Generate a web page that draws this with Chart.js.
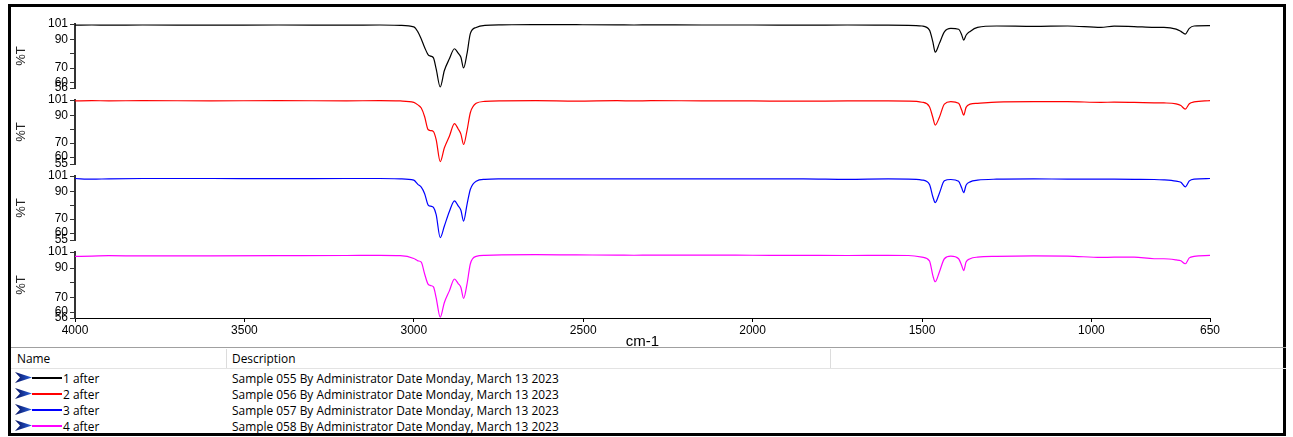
<!DOCTYPE html>
<html>
<head>
<meta charset="utf-8">
<script src="https://cdn.jsdelivr.net/npm/chart.js@4.4.1/dist/chart.umd.min.js"></script>
<style>
  html, body { margin: 0; padding: 0; background: #fff; }
  body { width: 1293px; height: 437px; position: relative; overflow: hidden; font-family: "Open Sans", sans-serif; }
  #frame { position: absolute; left: 8px; top: 4px; width: 1272px; height: 426px; border: 3px solid #000; }
  canvas { position: absolute; left: 0; }
  .hline { position: absolute; left: 11px; width: 1275px; height: 1px; background: #a0a0a0; }
  .hline2 { position: absolute; left: 11px; width: 1275px; height: 1px; background: #e3e3e3; }
  .vsep { position: absolute; top: 349px; width: 1px; height: 19px; background: #dcdcdc; }
  .txt { position: absolute; font-size: 11.9px; line-height: 16px; color: #000; white-space: nowrap; }
  .swatch { position: absolute; left: 32px; width: 30px; height: 2px; }
  .arrow { position: absolute; left: 15px; width: 17px; height: 11px; }
</style>
</head>
<body>
<div id="frame"></div>
<div class="hline" style="top:347px"></div>
<div class="txt" style="left:17px; top:350px">Name</div>
<div class="txt" style="left:232px; top:350px">Description</div>
<div class="vsep" style="left:226px"></div>
<div class="vsep" style="left:830px"></div>
<div class="hline2" style="top:368px"></div>
<div id="rows"></div>
<script>
// wavenumber grid (cm-1), shared by the four spectra
const wavenumbers = [4000, 3950, 3900, 3800, 3600, 3400, 3200, 3100, 3040, 3000,
  2988, 2978, 2968, 2958, 2950, 2942, 2934, 2922, 2910, 2895,
  2880, 2869, 2861, 2853, 2843, 2833, 2816, 2790, 2740, 2640,
  2520, 2400, 2350, 2300, 2150, 2000, 1850, 1720, 1600, 1540,
  1500, 1478, 1468, 1461, 1449, 1434, 1415, 1392, 1383, 1377,
  1370, 1358, 1336, 1280, 1170, 1070, 972, 933, 874, 815,
  786, 750, 736, 723, 711, 697, 650];

// %T
const after1 = [100.2, 100.3, 100.2, 100.3, 100.2, 100.3, 100.2, 100.3, 100.1, 99.0,
  95.5, 90.5, 84.5, 79.5, 78.4, 77.2, 69.4, 56.7, 68.1, 76.5,
  83.6, 80.5, 77.6, 70.1, 80.1, 94.4, 98.6, 100.1, 100.4, 100.6,
  100.5, 100.4, 100.3, 100.4, 100.3, 100.3, 100.2, 100.3, 100.2, 100.1,
  99.6, 96.7, 88.4, 81.2, 87.2, 95.5, 97.9, 97.3, 93.5, 89.6,
  93.1, 95.8, 98.6, 99.6, 99.3, 99.6, 98.6, 99.5, 99.2, 98.6,
  98.6, 97.4, 95.8, 93.9, 97.9, 99.6, 99.8];
const after2 = [100.4, 100.5, 100.4, 100.5, 100.4, 100.5, 100.4, 100.5, 100.3, 99.3,
  97.5, 95.2, 89.0, 79.8, 79.0, 78.3, 72.5, 56.7, 66.5, 75.0,
  84.0, 80.2, 76.5, 69.0, 79.0, 92.0, 98.6, 100.0, 100.4, 100.5,
  100.2, 100.5, 100.3, 100.5, 100.4, 100.3, 100.2, 100.3, 100.3, 100.2,
  99.4, 96.2, 88.4, 83.0, 88.4, 98.1, 99.8, 98.6, 93.8, 90.1,
  95.7, 98.0, 98.6, 99.5, 99.8, 99.8, 99.3, 99.5, 99.3, 99.0,
  98.9, 98.2, 97.0, 94.4, 98.3, 99.6, 100.5];
const after3 = [99.2, 98.7, 99.0, 99.2, 99.2, 99.1, 99.2, 99.2, 99.0, 98.0,
  95.0, 93.0, 88.3, 80.3, 79.3, 78.4, 73.2, 56.7, 64.9, 75.5,
  83.1, 79.5, 76.4, 68.6, 80.5, 91.5, 97.3, 98.6, 98.9, 99.0,
  99.0, 98.9, 99.0, 99.0, 99.0, 98.9, 99.0, 98.6, 98.9, 98.8,
  98.1, 95.0, 86.1, 81.9, 88.5, 97.5, 98.5, 97.2, 92.5, 89.0,
  94.4, 96.8, 98.0, 98.7, 98.9, 98.8, 98.8, 98.7, 98.6, 98.5,
  98.2, 97.3, 96.5, 93.2, 97.5, 98.8, 99.2];
const after4 = [98.0, 98.2, 98.5, 98.3, 98.4, 98.5, 98.6, 98.7, 98.5, 96.6,
  95.0, 94.1, 86.0, 79.1, 78.1, 77.2, 69.8, 56.5, 66.4, 74.5,
  82.6, 79.5, 76.8, 69.4, 79.1, 93.0, 98.0, 98.7, 99.0, 99.2,
  99.0, 98.9, 98.8, 98.9, 98.9, 98.8, 98.7, 98.6, 98.7, 98.6,
  97.5, 95.0, 84.9, 80.7, 87.2, 96.4, 98.2, 96.4, 91.8, 88.3,
  94.1, 96.4, 97.5, 98.0, 98.3, 98.2, 97.3, 97.5, 97.5, 96.4,
  96.4, 95.6, 95.0, 93.0, 97.0, 98.0, 98.7];

const xTicks = [4000, 3500, 3000, 2500, 2000, 1500, 1000, 650];
const yTicks = [60, 70, 80, 90, 101];
const yMins = [56, 55, 55, 56];
const names = ['1 after', '2 after', '3 after', '4 after'];
const descriptions = [
  'Sample 055 By Administrator Date Monday, March 13 2023',
  'Sample 056 By Administrator Date Monday, March 13 2023',
  'Sample 057 By Administrator Date Monday, March 13 2023',
  'Sample 058 By Administrator Date Monday, March 13 2023'
];

const series = [after1, after2, after3, after4];
const colors = ['#000000', '#ff0000', '#0000ff', '#ff00ff'];

// panel geometry (page pixels)
const panelTops = [24, 100, 176, 252];
const panelHeights = [64, 64, 64, 66];
const plotLeft = 75, plotRight = 1210, pageW = 1293;

const tickFont = { family: 'Liberation Sans, Arial, sans-serif', size: 12 };

function makeChart(i) {
  const last = i === 3;
  const pad = 10;
  const xAxisH = last ? 33 : 0;
  const padBottom = last ? 2 : pad;
  const h = pad + panelHeights[i] + xAxisH + padBottom;

  const canvas = document.createElement('canvas');
  canvas.width = pageW;
  canvas.height = h;
  canvas.style.top = (panelTops[i] - pad) + 'px';
  canvas.style.width = pageW + 'px';
  canvas.style.height = h + 'px';
  document.body.appendChild(canvas);

  const points = wavenumbers.map((w, k) => ({ x: w, y: series[i][k] }));

  new Chart(canvas, {
    type: 'line',
    data: {
      datasets: [{
        data: points,
        borderColor: colors[i],
        borderWidth: 1.2,
        pointRadius: 0,
        cubicInterpolationMode: 'monotone',
        fill: false
      }]
    },
    options: {
      responsive: false,
      animation: false,
      devicePixelRatio: 1,
      layout: { padding: { left: 0, right: pageW - plotRight, top: pad, bottom: padBottom } },
      plugins: { legend: { display: false }, tooltip: { enabled: false } },
      scales: {
        x: {
          type: 'linear',
          min: 650,
          max: 4000,
          reverse: true,
          display: last,
          afterBuildTicks: s => { s.ticks = xTicks.map(v => ({ value: v })); },
          afterFit: s => { s.height = xAxisH; },
          grid: { drawOnChartArea: false, tickLength: 4, color: '#000' },
          border: { color: '#000', width: 1 },
          ticks: { font: tickFont, color: '#000', padding: 1, maxRotation: 0, autoSkip: false, callback: v => String(v) },
          title: { display: true, text: 'cm-1', color: '#000', font: { family: 'Liberation Sans, Arial, sans-serif', size: 15 }, padding: { top: 0, bottom: 0 } }
        },
        y: {
          min: yMins[i],
          max: 101,
          afterBuildTicks: s => { s.ticks = [yMins[i]].concat(yTicks).map(v => ({ value: v })); },
          afterFit: s => { s.width = plotLeft; },
          grid: { drawOnChartArea: false, tickLength: 5, color: '#333' },
          border: { color: '#333', width: 2 },
          ticks: {
            font: tickFont, color: '#000', padding: 2, autoSkip: false,
            callback: v => (v === 80 ? '' : String(v))
          },
          title: { display: true, text: '%T', color: '#222', font: { family: 'Liberation Sans, Arial, sans-serif', size: 13 }, padding: { top: 14, bottom: 0 } }
        }
      }
    }
  });
}

for (let i = 0; i < 4; i++) makeChart(i);

// legend table rows
const rows = document.getElementById('rows');
names.forEach((name, i) => {
  const y = 370 + i * 16;
  rows.innerHTML += `
    <svg class="arrow" style="top:${y + 2}px" viewBox="0 0 17 11">
      <defs><linearGradient id="g${i}" x1="0" x2="1"><stop offset="0" stop-color="#06105e"/><stop offset="1" stop-color="#2a62e0"/></linearGradient></defs>
      <polygon points="0,0 17,5.5 0,11 5,5.5" fill="url(#g${i})"/>
    </svg>
    <div class="swatch" style="top:${y + 7}px; background:${colors[i]}"></div>
    <div class="txt" style="left:63px; top:${y}px">${name}</div>
    <div class="txt" style="left:232px; top:${y}px">${descriptions[i]}</div>
  `;
});
</script>
</body>
</html>
